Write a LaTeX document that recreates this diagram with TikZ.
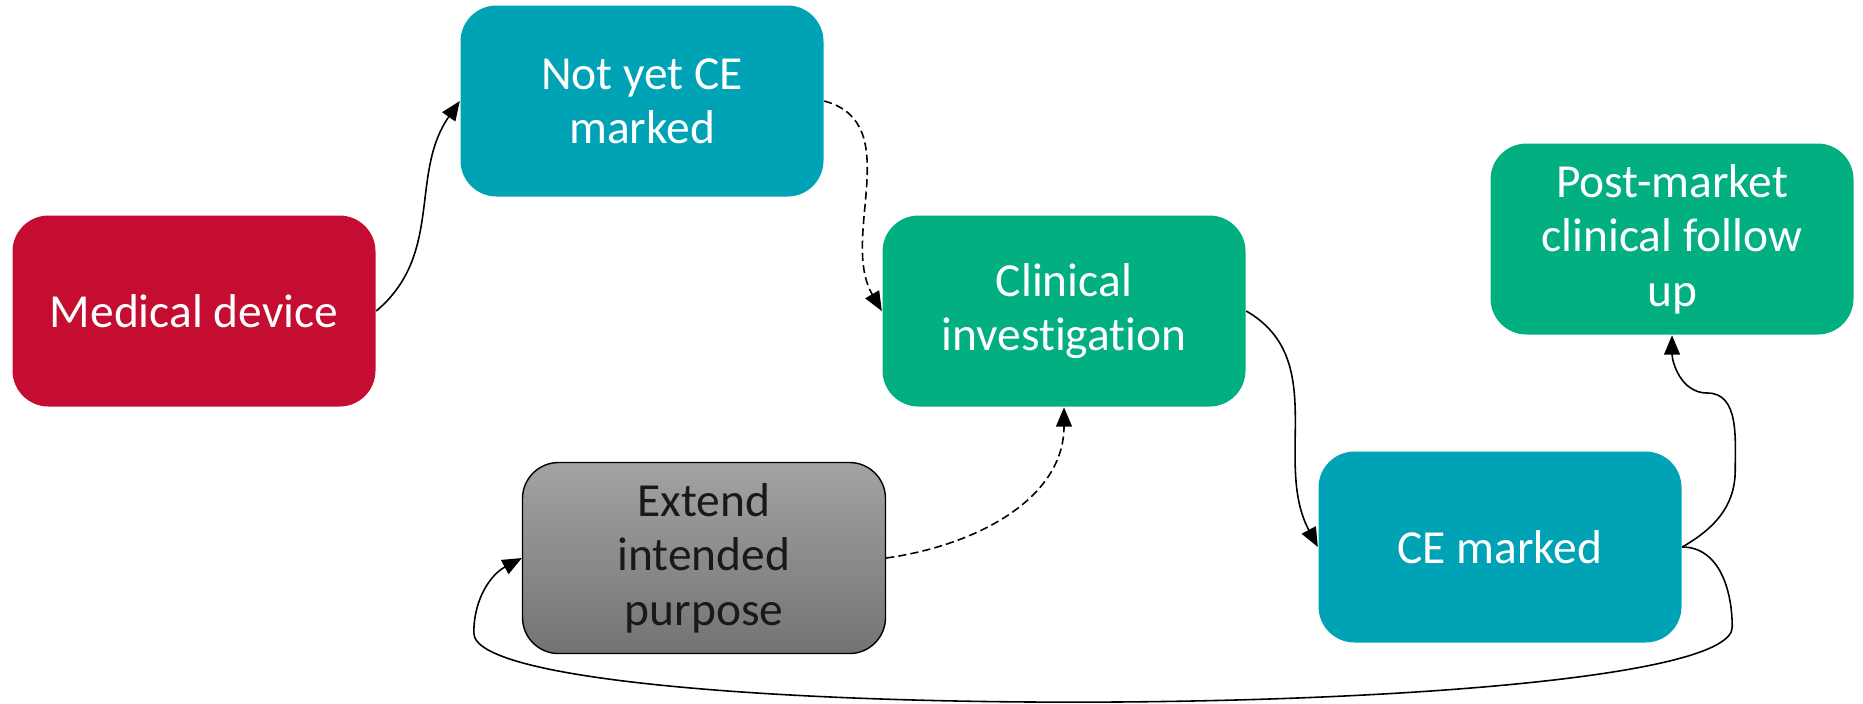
\documentclass[tikz,border=0pt]{standalone}
\usepackage{fontspec}
\setmainfont[Ligatures={NoCommon}]{Carlito}
\usetikzlibrary{arrows.meta}
\definecolor{mdred}{HTML}{C40D31}
\definecolor{ceteal}{HTML}{00A3B5}
\definecolor{cigreen}{HTML}{02AF80}
\definecolor{extop}{HTML}{A3A3A3}
\definecolor{exbot}{HTML}{737373}
\tikzstyle{stage}=[rectangle,rounded corners=0.36cm,minimum width=3.63cm,minimum height=1.91cm,inner sep=0pt,align=center,text=white,font=\fontsize{13.5}{15.5}\selectfont]
\tikzstyle{link}=[-{Triangle[length=5.5pt,width=4.5pt]},black,line width=0.45pt]
\tikzstyle{maybe}=[dash pattern=on 2.3pt off 1.2pt]

\begin{document}
\begin{tikzpicture}
\useasboundingbox (0,0) rectangle (18.63,-7.03);
\node[stage, fill=mdred] at (1.94, -3.11) (md) {Medical device};
\node[stage, fill=ceteal] at (6.42, -1.01) (ny) {Not yet CE\\marked};
\node[stage, fill=cigreen] at (10.64, -3.11) (ci) {Clinical\\investigation};
\node[stage, fill=cigreen] at (16.72, -2.39) (pm) {Post-market\\clinical follow\\up};
\node[stage, fill=ceteal] at (15.00, -5.47) (ce) {CE marked};
\node[stage, draw=black, top color=extop, bottom color=exbot, text=black!90] at (7.04, -5.58) (ex) {Extend\\intended\\purpose};

\draw[link] (md.east) to[out=40, in=235] (ny.west);
\draw[link, maybe] (ny.east) to[out=-15, in=120] (ci.west);
\draw[link] (ci.east) to[out=-30, in=118] (ce.west);
\draw[link, maybe] (ex.east) to[out=8, in=-90] (ci.south);

%\draw[link] (ce.east) to[out=30, in=-90] (pm.south);
\draw[link] (ce.east) to[out=30, in=-90] ++(0.53, 0.77) to[out=90, in=0] ++(-0.28, 0.77) to[out=180, in=-90] (pm.south);
\draw[link] (ce.east) to[out=0, in=90] ++(0.50, -0.80) to[out=-90, in=-90, looseness=0.195] ([shift={(-0.48,-0.75)}]ex.west) to[out=90, in=208] (ex.west);
\end{tikzpicture}
\end{document}
